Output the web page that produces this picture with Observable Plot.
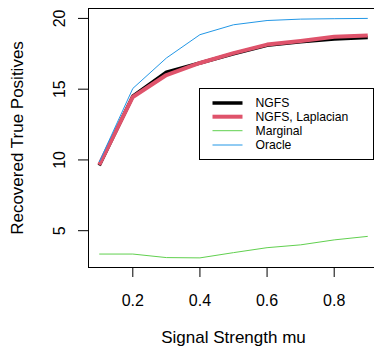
<!DOCTYPE html>
<html>
<head>
<meta charset="utf-8">
<script src="https://cdn.jsdelivr.net/npm/d3@7"></script>
<script src="https://cdn.jsdelivr.net/npm/@observablehq/plot@0.6"></script>
<style>
  html, body { margin: 0; padding: 0; background: #fff; }
  #wrap { width: 374px; height: 350px; overflow: hidden; position: relative; }
  #wrap svg { font-family: "Liberation Sans", Arial, Helvetica, sans-serif; max-width: none !important; }
</style>
</head>
<body>
<div id="wrap"></div>
<script>
const mu = [0.1, 0.2, 0.3, 0.4, 0.5, 0.6, 0.7, 0.8, 0.9];
const ngfs = [9.6, 14.5, 16.2, 16.85, 17.5, 18.1, 18.35, 18.55, 18.65];
const laplacian = [9.65, 14.45, 16.0, 16.85, 17.55, 18.15, 18.4, 18.7, 18.8];
const marginal = [3.35, 3.35, 3.1, 3.08, 3.45, 3.8, 4.0, 4.35, 4.6];
const oracle = [9.85, 15.05, 17.2, 18.85, 19.55, 19.85, 19.95, 19.98, 20.0];
const seriesNames = ["NGFS", "NGFS, Laplacian", "Marginal", "Oracle"];
const seriesColors = ["#000000", "#DF536B", "#61D04F", "#2297E6"];
const seriesWidths = [3.5, 4, 1, 1];
const xTicks = [0.2, 0.4, 0.6, 0.8];
const yTicks = [5, 10, 15, 20];
const xLabel = "Signal Strength mu";
const yLabel = "Recovered True Positives";

const values = [ngfs, laplacian, marginal, oracle];
const rows = [];
values.forEach((arr, s) => arr.forEach((v, i) => rows.push({series: seriesNames[s], mu: mu[i], v})));

const lineMarks = seriesNames.map((name, s) =>
  Plot.line(rows.filter(d => d.series === name), {
    x: "mu", y: "v", stroke: seriesColors[s], strokeWidth: seriesWidths[s],
    strokeLinejoin: "round", strokeLinecap: "butt"
  })
);

const plot = Plot.plot({
  width: 380,
  height: 350,
  marginLeft: 88,
  marginRight: 2,
  marginTop: 8,
  marginBottom: 83,
  style: {fontFamily: "'Liberation Sans', Arial, sans-serif", background: "#fff", maxWidth: "none"},
  x: {domain: [0.068, 0.932]},
  y: {domain: [2.4, 20.7]},
  marks: [
    ...lineMarks,
    Plot.frame({stroke: "#000", strokeWidth: 1}),
    Plot.axisX({ticks: xTicks, tickSize: 10, tickPadding: 17, fontSize: 16, tickFormat: d => d.toFixed(1), label: null, stroke: "#000", color: "#000"}),
    Plot.axisY({ticks: yTicks, tickSize: 10, tickPadding: 14, tickRotate: -90, fontSize: 16, label: null, stroke: "#000", color: "#000"}),
    Plot.text([xLabel], {frameAnchor: "bottom", lineAnchor: "middle", dy: 70, fontSize: 17, fill: "#000"}),
    Plot.text([yLabel], {frameAnchor: "left", textAnchor: "middle", lineAnchor: "middle", dx: -70.5, rotate: -90, fontSize: 17, fill: "#000"})
  ]
});
plot.style.maxWidth = "none";
document.getElementById("wrap").appendChild(plot);

// legend
const svg = d3.select(plot);
const lg = svg.append("g").attr("text-anchor", "start");
lg.append("rect").attr("x", 199.5).attr("y", 88.5).attr("width", 174).attr("height", 71)
  .attr("fill", "#fff").attr("stroke", "#000").attr("stroke-width", 1);
const rowY = [103, 116.7, 130.7, 145];
seriesNames.forEach((name, i) => {
  lg.append("line").attr("x1", 212.5).attr("x2", 242.5).attr("y1", rowY[i]).attr("y2", rowY[i])
    .attr("stroke", seriesColors[i]).attr("stroke-width", seriesWidths[i]);
  lg.append("text").attr("x", 255.5).attr("y", rowY[i]).attr("dy", "0.35em")
    .attr("text-anchor", "start").attr("font-size", 12.2).attr("fill", "#000").text(name);
});
</script>
</body>
</html>
